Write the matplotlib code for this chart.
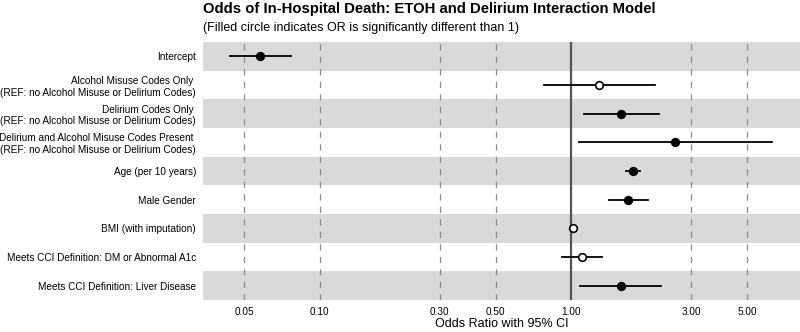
import numpy as np
import matplotlib
matplotlib.use('Agg')
import matplotlib.pyplot as plt

plt.rcParams['font.family'] = ['Liberation Sans', 'DejaVu Sans']

labels = [
    'Intercept',
    'Alcohol Misuse Codes Only \n(REF: no Alcohol Misuse or Delirium Codes)',
    'Delirium Codes Only \n(REF: no Alcohol Misuse or Delirium Codes)',
    'Delirium and Alcohol Misuse Codes Present \n(REF: no Alcohol Misuse or Delirium Codes)',
    'Age (per 10 years)',
    'Male Gender',
    'BMI (with imputation)',
    'Meets CCI Definition: DM or Abnormal A1c',
    'Meets CCI Definition: Liver Disease',
]
odds = [0.058, 1.29, 1.57, 2.59, 1.75, 1.68, 1.01, 1.10, 1.57]
ci_low = [0.044, 0.78, 1.12, 1.07, 1.64, 1.41, 1.00, 0.915, 1.086]
ci_high = [0.077, 2.15, 2.22, 6.29, 1.87, 2.02, 1.02, 1.32, 2.27]
significant = [True, False, True, True, True, True, False, False, True]

ticks = [0.05, 0.10, 0.30, 0.50, 1.00, 3.00, 5.00]

fig = plt.figure(figsize=(8, 3.32), dpi=100)
ax = fig.add_axes([203/800, 1 - 300/332, 597/800, 258/332])

n = len(labels)
ypos = np.arange(n)
# alternating grey bands behind the rows
for i in ypos:
    if i % 2 == 0:
        ax.axhspan(i - 0.5, i + 0.5, color='#d9d9d9', lw=0, zorder=0)

for t in ticks:
    if t != 1.0:
        ax.axvline(t, color='#8c8c8c', lw=0.9, ls=(0, (5, 5)), zorder=1)
ax.axvline(1.0, color='#555555', lw=1.6, zorder=2)

for i in ypos:
    ax.plot([ci_low[i], ci_high[i]], [i, i], color='black', lw=1.3, zorder=3)
    face = 'black' if significant[i] else 'white'
    ax.plot(odds[i], i, 'o', ms=5.5, mfc=face, mec='black', mew=1.2, zorder=4)

ax.set_xscale('log')
ax.set_xlim(0.0343, 8.1)
ax.set_ylim(n - 0.5, -0.5)
ax.set_xticks(ticks)
ax.set_xticklabels(['%.2f' % t for t in ticks], fontsize=7.2)
ax.minorticks_off()
ax.set_yticks(ypos)
ax.set_yticklabels(labels, fontsize=7.2, multialignment='right', linespacing=1.2)
ax.tick_params(length=0, pad=5)
ax.set_xlabel('Odds Ratio with 95% CI', fontsize=9, labelpad=1)
for s in ax.spines.values():
    s.set_visible(False)

fig.text(203/800, 1 - 9.5/332, 'Odds of In-Hospital Death: ETOH and Delirium Interaction Model',
         fontsize=10.7, fontweight='bold', va='center', ha='left')
fig.text(203/800, 1 - 27.5/332, '(Filled circle indicates OR is significantly different than 1)',
         fontsize=9, va='center', ha='left')

fig.savefig('out.png', dpi=100)
